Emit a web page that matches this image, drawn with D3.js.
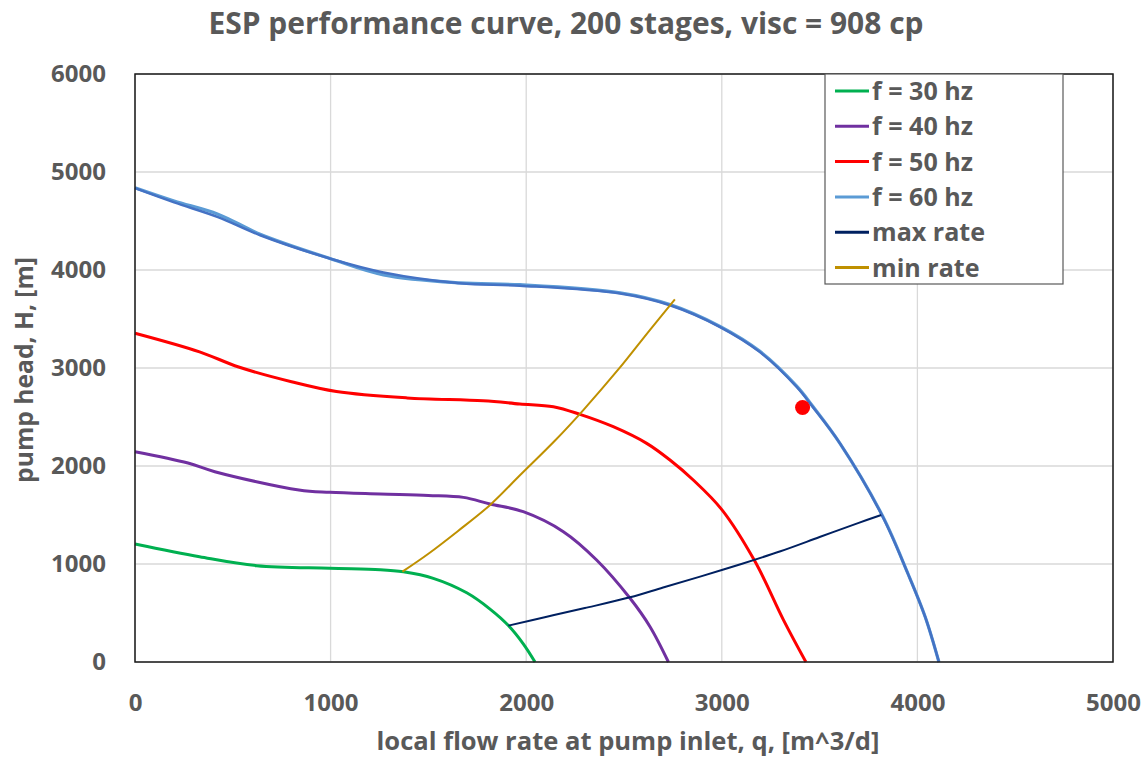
<!DOCTYPE html>
<html>
<head>
<meta charset="utf-8">
<script src="https://cdn.jsdelivr.net/npm/d3@7"></script>
<style>
  html, body { margin: 0; padding: 0; background: #fff; }
  svg { display: block; font-family: "Open Sans", Lato, sans-serif; font-weight: bold; }
</style>
</head>
<body>
<svg id="chart" width="1148" height="758"></svg>
<script>
// pump curves, q [m^3/d] -> H [m]
const q30 = [0, 330, 623, 995, 1253, 1372, 1525, 1696, 1815, 1909, 1985, 2045];
const h30 = [1204, 1075, 983, 956, 942, 920, 854, 706, 540, 372, 185, 0];

const q40 = [0, 271, 408, 838, 995, 1253, 1500, 1679, 1815, 1985, 2190, 2360, 2531, 2633, 2727];
const h40 = [2146, 2030, 1942, 1755, 1731, 1714, 1700, 1680, 1612, 1534, 1330, 1041, 650, 360, 0];

const q50 = [0, 330, 530, 800, 1030, 1390, 1780, 1968, 2139, 2275, 2445, 2616, 2735, 2854, 3000, 3170, 3315, 3430];
const h50 = [3355, 3165, 3010, 2860, 2760, 2695, 2665, 2633, 2605, 2527, 2401, 2231, 2061, 1857, 1555, 1025, 430, 0];

const q60 = [0, 200, 424, 640, 1000, 1270, 1660, 1968, 2480, 2735, 2991, 3195, 3383, 3465, 3604, 3822, 3950, 4040, 4110];
const h60 = [4840, 4705, 4570, 4365, 4115, 3950, 3868, 3850, 3768, 3648, 3425, 3170, 2815, 2610, 2231, 1490, 910, 460, 0];

// second 60 hz trace (no legend entry), drawn on top in darker blue
const q60b = [0, 200, 424, 640, 1000, 1270, 1660, 1968, 2480, 2735, 2991, 3195, 3383, 3465, 3604, 3822, 3950, 4040, 4110];
const h60b = [4835, 4690, 4540, 4355, 4115, 3975, 3865, 3840, 3760, 3640, 3418, 3162, 2806, 2602, 2231, 1485, 908, 459, 0];

const qMax = [1909, 2100, 2300, 2531, 2700, 2889, 3100, 3300, 3500, 3700, 3815];
const hMax = [371, 460, 550, 660, 760, 871, 1000, 1130, 1275, 1420, 1500];

const qMin = [1367, 1500, 1650, 1817, 1968, 2150, 2292, 2471, 2633, 2760];
const hMin = [922, 1105, 1335, 1605, 1905, 2265, 2571, 2985, 3390, 3700];

const opPoint = [3413, 2597];

const xTicks = [0, 1000, 2000, 3000, 4000, 5000];
const yTicks = [0, 1000, 2000, 3000, 4000, 5000, 6000];

const series = [
  { name: "f = 60 hz", q: q60, h: h60, color: "#5B9BD5", width: 3.2, legend: true },
  { name: "f = 60 hz b", q: q60b, h: h60b, color: "#4472C4", width: 2.5, legend: false },
  { name: "f = 50 hz", q: q50, h: h50, color: "#FF0000", width: 3, legend: true },
  { name: "f = 40 hz", q: q40, h: h40, color: "#7030A0", width: 3, legend: true },
  { name: "f = 30 hz", q: q30, h: h30, color: "#00B050", width: 3, legend: true },
  { name: "max rate", q: qMax, h: hMax, color: "#002060", width: 2, legend: true },
  { name: "min rate", q: qMin, h: hMin, color: "#BF9000", width: 2, legend: true },
];
const legendOrder = ["f = 30 hz", "f = 40 hz", "f = 50 hz", "f = 60 hz", "max rate", "min rate"];

const svg = d3.select("#chart");
const m = { left: 135, top: 74, right: 1113, bottom: 662 };
const x = d3.scaleLinear().domain([0, 5000]).range([m.left, m.right]);
const y = d3.scaleLinear().domain([0, 6000]).range([m.bottom, m.top]);
const textColor = "#595959";

// shrink/grow a text's font-size until it spans the width seen in the reference
function fit(sel, target) {
  const node = sel.node();
  const fs = parseFloat(sel.style("font-size"));
  const w = node.getComputedTextLength();
  if (w > 0) sel.style("font-size", (fs * target / w).toFixed(2) + "px");
  return sel;
}

// gridlines
svg.append("g").selectAll("line").data(xTicks).join("line")
  .attr("x1", (d) => x(d)).attr("x2", (d) => x(d))
  .attr("y1", m.top).attr("y2", m.bottom)
  .attr("stroke", "#d9d9d9").attr("stroke-width", 1.3);
svg.append("g").selectAll("line").data(yTicks).join("line")
  .attr("x1", m.left).attr("x2", m.right)
  .attr("y1", (d) => y(d)).attr("y2", (d) => y(d))
  .attr("stroke", "#d9d9d9").attr("stroke-width", 1.3);

// tick labels via axes (no domain, no tick marks)
const xAxis = svg.append("g").attr("transform", `translate(0,${m.bottom})`)
  .call(d3.axisBottom(x).tickValues(xTicks).tickFormat(d3.format("d")).tickSize(0).tickPadding(32));
const yAxis = svg.append("g").attr("transform", `translate(${m.left},0)`)
  .call(d3.axisLeft(y).tickValues(yTicks).tickFormat(d3.format("d")).tickSize(0).tickPadding(29));
[xAxis, yAxis].forEach((a) => {
  a.select(".domain").remove();
  a.selectAll("text").attr("fill", textColor).style("font-size", "20px")
    .style("font-family", "'Open Sans', sans-serif").style("font-weight", "bold");
});
const tickSize = (() => {
  const t = xAxis.selectAll("text").filter((d) => d === 5000);
  fit(t, 55);
  return t.style("font-size");
})();
xAxis.selectAll("text").style("font-size", tickSize);
yAxis.selectAll("text").style("font-size", tickSize);

// curves
const lineFree = d3.line().x((d) => x(d[0])).y((d) => y(d[1])).curve(d3.curveCatmullRom.alpha(0.5));
const plot = svg.append("g");
plot.selectAll("path.curve").data(series).join("path")
  .attr("class", "curve")
  .attr("fill", "none")
  .attr("stroke", (d) => d.color)
  .attr("stroke-width", (d) => d.width)
  .attr("stroke-linejoin", "round")
  .attr("d", (d) => lineFree(d.q.map((v, i) => [v, d.h[i]])));

// operating point
plot.append("circle")
  .attr("cx", x(opPoint[0])).attr("cy", y(opPoint[1])).attr("r", 7.5)
  .attr("fill", "#FF0000");

// plot area frame
svg.append("rect")
  .attr("x", m.left).attr("y", m.top)
  .attr("width", m.right - m.left).attr("height", m.bottom - m.top)
  .attr("fill", "none").attr("stroke", "#1a1a1a").attr("stroke-width", 1.5);

// legend
const lg = svg.append("g").attr("transform", "translate(825,74)");
lg.append("rect").attr("width", 238).attr("height", 210)
  .attr("fill", "#fff").attr("stroke", "#595959").attr("stroke-width", 1.2);
const items = legendOrder.map((n) => series.find((s) => s.name === n));
const row = lg.selectAll("g.item").data(items).join("g")
  .attr("transform", (d, i) => `translate(0,${17 + i * 35.3})`);
row.append("line").attr("x1", 10).attr("x2", 44)
  .attr("stroke", (d) => d.color).attr("stroke-width", 3);
const lgText = row.append("text").attr("x", 47).attr("dy", "0.36em")
  .attr("fill", textColor).style("font-size", "22px")
  .text((d) => d.name);
fit(lgText.filter((d) => d.name === "f = 30 hz"), 101);
lgText.style("font-size", lgText.filter((d) => d.name === "f = 30 hz").style("font-size"));

// titles
fit(svg.append("text").attr("x", 566).attr("y", 34).attr("text-anchor", "middle")
  .attr("fill", textColor).style("font-size", "26px")
  .text("ESP performance curve, 200 stages, visc = 908 cp"), 715);
fit(svg.append("text").attr("x", 628).attr("y", 750).attr("text-anchor", "middle")
  .attr("fill", textColor).style("font-size", "21px")
  .text("local flow rate at pump inlet, q, [m^3/d]"), 503);
fit(svg.append("text").attr("transform", "translate(33,370) rotate(-90)").attr("text-anchor", "middle")
  .attr("fill", textColor).style("font-size", "21px")
  .text("pump head, H, [m]"), 226);
</script>
</body>
</html>
